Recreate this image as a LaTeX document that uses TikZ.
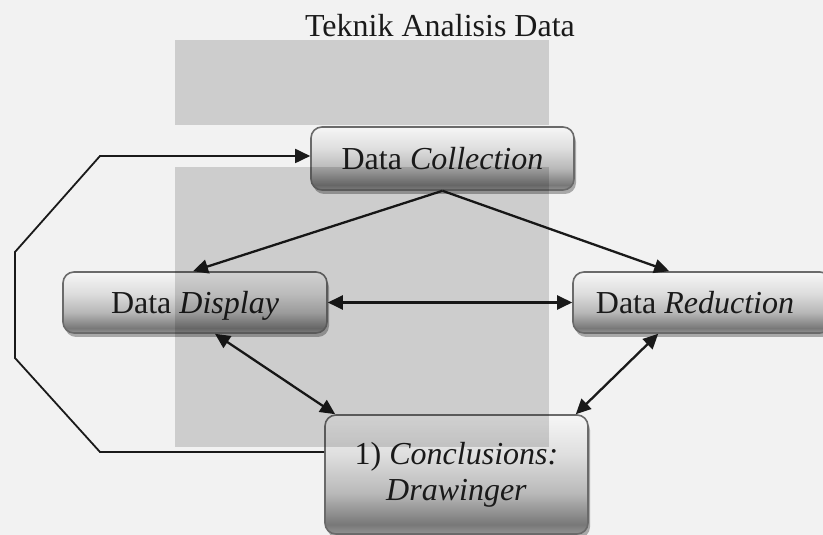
\documentclass[tikz,border=0pt]{standalone}
\usepackage{fontspec}
\setmainfont{Liberation Serif}
\usetikzlibrary{arrows.meta,shadows,calc}
\definecolor{shF}{HTML}{F6F6F6}
\definecolor{shE}{HTML}{DEDEDE}
\definecolor{shD}{HTML}{B8B8B8}
\definecolor{shC}{HTML}{787878}
\definecolor{shB}{HTML}{939393}
\definecolor{bgcol}{HTML}{F2F2F2}
\definecolor{boxborder}{HTML}{6A6A6A}
\definecolor{ink}{HTML}{1A1A1A}
\pgfdeclareverticalshading{boxshade}{100bp}{color(0bp)=(shB); color(25bp)=(shB); color(29bp)=(shC); color(42bp)=(shD); color(58bp)=(shE); color(75bp)=(shF); color(100bp)=(shF)}
\tikzset{
  txt/.style={font=\fontsize{32}{36}\selectfont, text=ink, inner sep=0pt, align=center},
  box/.style={txt, draw=boxborder, line width=1.6pt, rounded corners=11pt, shading=boxshade,
    drop shadow={shadow xshift=2pt, shadow yshift=-4pt, opacity=0.3, fill=black}},
  conn/.style={line width=2.3pt, draw=ink},
  fb/.style={line width=1.8pt, draw=ink},
  >={Triangle[length=15pt,width=14pt]}
}
\begin{document}
\begin{tikzpicture}[x=1pt,y=1pt]
\useasboundingbox (0,0) rectangle (823,535);
\fill[bgcol] (0,0) rectangle (823,535);
% title
\node[txt, anchor=base] (title) at (440,498) {Teknik Analisis Data};
% boxes
\node[box, minimum width=263pt, minimum height=63pt, text depth=0pt] (coll) at (442.5,376.5) {Data \textit{Collection}};
\node[box, minimum width=264pt, minimum height=61pt, text depth=0pt] (disp) at (195,232.5) {Data \textit{Display}};
\node[box, minimum width=258pt, minimum height=61pt] (red) at (702,232.5) {};
\node[txt, text depth=0pt] (redtxt) at (695,232.5) {Data \textit{Reduction}};
\node[box, minimum width=263pt, minimum height=119pt] (concl) at (456.5,60.5) {1) \textit{Conclusions:}\\\textit{Drawinger}};
% connectors
\draw[conn,->] (coll.south) -- ([xshift=-2pt]disp.north);
\draw[conn,->] (coll.south) -- ([xshift=97pt]red.north west);
\draw[conn,<->] (disp.east) -- (red.west);
\draw[conn,<->] ([xshift=20pt]disp.south) -- ([xshift=11pt]concl.north west);
\draw[conn,<->] ([xshift=86pt]red.south west) -- ([xshift=-13pt]concl.north east);
% feedback loop
\coordinate (f1) at (100,83);
\coordinate (f2) at (15,177);
\coordinate (f3) at (15,283);
\coordinate (f4) at (100,379);
\draw[fb,->] ([yshift=22.5pt]concl.west) -- (f1) -- (f2) -- (f3) -- (f4) -- (f4 -| coll.west);
% watermark overlay
\fill[black, opacity=0.15] (175,410) rectangle (549,495);
\fill[black, opacity=0.15] (175,88) rectangle (549,368);
\end{tikzpicture}
\end{document}
